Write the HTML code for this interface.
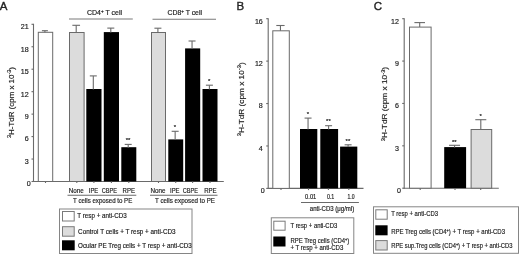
<!DOCTYPE html>
<html><head><meta charset="utf-8"><style>
html,body{margin:0;padding:0;background:#fff;width:520px;height:254px;overflow:hidden}
svg{display:block;font-family:"Liberation Sans", sans-serif}
text{stroke:#222;stroke-width:0.18}
</style></head><body>
<svg width="520" height="254" viewBox="0 0 520 254">
<defs><filter id="bl" x="0" y="0" width="520" height="254" filterUnits="userSpaceOnUse"><feGaussianBlur stdDeviation="0.3"/></filter></defs>
<g filter="url(#bl)">
<rect width="520" height="254" fill="#fff"/>
<text x="-0.2" y="10.1" font-size="11.5" text-anchor="start" fill="#222" style="stroke-width:0.35">A</text>
<line x1="33.5" y1="23.8" x2="33.5" y2="182.0" stroke="#6a6a6a" stroke-width="1.1"/>
<line x1="31.5" y1="181.5" x2="33.5" y2="181.5" stroke="#6a6a6a" stroke-width="1.1"/>
<text x="30.6" y="186.0" font-size="7.1" text-anchor="end" fill="#222" >0</text>
<line x1="31.5" y1="159.04" x2="33.5" y2="159.04" stroke="#6a6a6a" stroke-width="1.1"/>
<text x="28.6" y="163.94" font-size="7.1" text-anchor="end" fill="#222" >3</text>
<line x1="31.5" y1="136.59" x2="33.5" y2="136.59" stroke="#6a6a6a" stroke-width="1.1"/>
<text x="28.6" y="141.49" font-size="7.1" text-anchor="end" fill="#222" >6</text>
<line x1="31.5" y1="114.13" x2="33.5" y2="114.13" stroke="#6a6a6a" stroke-width="1.1"/>
<text x="28.6" y="119.03" font-size="7.1" text-anchor="end" fill="#222" >9</text>
<line x1="31.5" y1="91.67" x2="33.5" y2="91.67" stroke="#6a6a6a" stroke-width="1.1"/>
<text x="28.6" y="96.57" font-size="7.1" text-anchor="end" fill="#222" >12</text>
<line x1="31.5" y1="69.21" x2="33.5" y2="69.21" stroke="#6a6a6a" stroke-width="1.1"/>
<text x="28.6" y="74.11" font-size="7.1" text-anchor="end" fill="#222" >15</text>
<line x1="31.5" y1="46.76" x2="33.5" y2="46.76" stroke="#6a6a6a" stroke-width="1.1"/>
<text x="28.6" y="51.66" font-size="7.1" text-anchor="end" fill="#222" >18</text>
<line x1="31.5" y1="24.3" x2="33.5" y2="24.3" stroke="#6a6a6a" stroke-width="1.1"/>
<text x="28.6" y="29.2" font-size="7.1" text-anchor="end" fill="#222" >21</text>
<line x1="33" y1="181.5" x2="223.8" y2="181.5" stroke="#6a6a6a" stroke-width="1.1"/>
<text transform="translate(13.8,102.5) rotate(-90)" x="0" y="0" font-size="8" text-anchor="middle" fill="#222" textLength="71" lengthAdjust="spacingAndGlyphs"><tspan font-size="5.6" dy="-2.5">3</tspan><tspan dy="2.5">H-TdR (cpm x 10</tspan><tspan font-size="5.6" dy="-2.5">-3</tspan><tspan dy="2.5">)</tspan></text>
<rect x="38.3" y="32.3" width="14.4" height="149.2" fill="#fff" stroke="#6a6a6a" stroke-width="1.0"/>
<line x1="44.9" y1="30.7" x2="44.9" y2="32.3" stroke="#6a6a6a" stroke-width="1.1"/>
<line x1="41.9" y1="30.7" x2="47.9" y2="30.7" stroke="#6a6a6a" stroke-width="1.1"/>
<rect x="69.5" y="32.5" width="14.6" height="149.0" fill="#dcdcdc" stroke="#6a6a6a" stroke-width="1.0"/>
<line x1="76.2" y1="25.3" x2="76.2" y2="32.5" stroke="#6a6a6a" stroke-width="1.1"/>
<line x1="72.35" y1="25.3" x2="80.05" y2="25.3" stroke="#6a6a6a" stroke-width="1.1"/>
<rect x="86.3" y="89" width="15.2" height="92.5" fill="#000"/>
<line x1="93.3" y1="75.9" x2="93.3" y2="89.5" stroke="#6a6a6a" stroke-width="1.1"/>
<line x1="89.8" y1="75.9" x2="96.8" y2="75.9" stroke="#6a6a6a" stroke-width="1.1"/>
<rect x="103.8" y="32.1" width="15.2" height="149.4" fill="#000"/>
<line x1="110.8" y1="28.1" x2="110.8" y2="32.6" stroke="#6a6a6a" stroke-width="1.1"/>
<line x1="107.3" y1="28.1" x2="114.3" y2="28.1" stroke="#6a6a6a" stroke-width="1.1"/>
<rect x="121.3" y="147.2" width="15" height="34.3" fill="#000"/>
<line x1="128.2" y1="144.4" x2="128.2" y2="147.7" stroke="#6a6a6a" stroke-width="1.1"/>
<line x1="124.7" y1="144.4" x2="131.7" y2="144.4" stroke="#6a6a6a" stroke-width="1.1"/>
<text x="128" y="141.5" font-size="6" text-anchor="middle" fill="#222" >**</text>
<rect x="151.5" y="32.5" width="14" height="149.0" fill="#dcdcdc" stroke="#6a6a6a" stroke-width="1.0"/>
<line x1="157.9" y1="28.2" x2="157.9" y2="32.5" stroke="#6a6a6a" stroke-width="1.1"/>
<line x1="154.4" y1="28.2" x2="161.4" y2="28.2" stroke="#6a6a6a" stroke-width="1.1"/>
<rect x="168.3" y="139.4" width="14.9" height="42.1" fill="#000"/>
<line x1="175.15" y1="131.3" x2="175.15" y2="139.9" stroke="#6a6a6a" stroke-width="1.1"/>
<line x1="171.65" y1="131.3" x2="178.65" y2="131.3" stroke="#6a6a6a" stroke-width="1.1"/>
<text x="174.95" y="129" font-size="6" text-anchor="middle" fill="#222" >*</text>
<rect x="185.1" y="48.4" width="15.1" height="133.1" fill="#000"/>
<line x1="192.05" y1="41" x2="192.05" y2="48.9" stroke="#6a6a6a" stroke-width="1.1"/>
<line x1="188.55" y1="41" x2="195.55" y2="41" stroke="#6a6a6a" stroke-width="1.1"/>
<rect x="202.5" y="89" width="15.0" height="92.5" fill="#000"/>
<line x1="209.4" y1="85.2" x2="209.4" y2="89.5" stroke="#6a6a6a" stroke-width="1.1"/>
<line x1="205.9" y1="85.2" x2="212.9" y2="85.2" stroke="#6a6a6a" stroke-width="1.1"/>
<text x="209.2" y="83" font-size="6" text-anchor="middle" fill="#222" >*</text>
<line x1="45.5" y1="181.5" x2="45.5" y2="183.0" stroke="#6a6a6a" stroke-width="1.1"/>
<line x1="76.8" y1="181.5" x2="76.8" y2="183.0" stroke="#6a6a6a" stroke-width="1.1"/>
<line x1="93.9" y1="181.5" x2="93.9" y2="183.0" stroke="#6a6a6a" stroke-width="1.1"/>
<line x1="111.4" y1="181.5" x2="111.4" y2="183.0" stroke="#6a6a6a" stroke-width="1.1"/>
<line x1="128.8" y1="181.5" x2="128.8" y2="183.0" stroke="#6a6a6a" stroke-width="1.1"/>
<line x1="158.5" y1="181.5" x2="158.5" y2="183.0" stroke="#6a6a6a" stroke-width="1.1"/>
<line x1="175.7" y1="181.5" x2="175.7" y2="183.0" stroke="#6a6a6a" stroke-width="1.1"/>
<line x1="192.6" y1="181.5" x2="192.6" y2="183.0" stroke="#6a6a6a" stroke-width="1.1"/>
<line x1="210" y1="181.5" x2="210" y2="183.0" stroke="#6a6a6a" stroke-width="1.1"/>
<line x1="69" y1="19" x2="132.8" y2="19" stroke="#7a7a7a" stroke-width="1.1"/>
<text x="87" y="15.3" font-size="6.8" text-anchor="start" fill="#222" textLength="35" lengthAdjust="spacingAndGlyphs" >CD4<tspan font-size="4.5" dy="-2">+</tspan><tspan dy="2"> T cell</tspan></text>
<line x1="152.5" y1="19.2" x2="216" y2="19.2" stroke="#7a7a7a" stroke-width="1.1"/>
<text x="167.5" y="15.3" font-size="6.8" text-anchor="start" fill="#222" textLength="34.5" lengthAdjust="spacingAndGlyphs" >CD8<tspan font-size="4.5" dy="-2">+</tspan><tspan dy="2"> T cell</tspan></text>
<text x="76.3" y="193.1" font-size="6.8" text-anchor="middle" fill="#222" textLength="15" lengthAdjust="spacingAndGlyphs" >None</text>
<text x="93.5" y="193.1" font-size="6.8" text-anchor="middle" fill="#222" textLength="9.5" lengthAdjust="spacingAndGlyphs" >IPE</text>
<text x="109.3" y="193.1" font-size="6.8" text-anchor="middle" fill="#222" textLength="15.2" lengthAdjust="spacingAndGlyphs" >CBPE</text>
<text x="128.8" y="193.1" font-size="6.8" text-anchor="middle" fill="#222" textLength="12.5" lengthAdjust="spacingAndGlyphs" >RPE</text>
<text x="157.9" y="193.1" font-size="6.8" text-anchor="middle" fill="#222" textLength="15" lengthAdjust="spacingAndGlyphs" >None</text>
<text x="174.8" y="193.1" font-size="6.8" text-anchor="middle" fill="#222" textLength="9.5" lengthAdjust="spacingAndGlyphs" >IPE</text>
<text x="190.4" y="193.1" font-size="6.8" text-anchor="middle" fill="#222" textLength="15.2" lengthAdjust="spacingAndGlyphs" >CBPE</text>
<text x="210.4" y="193.1" font-size="6.8" text-anchor="middle" fill="#222" textLength="12.5" lengthAdjust="spacingAndGlyphs" >RPE</text>
<line x1="67.5" y1="195.3" x2="136.3" y2="195.3" stroke="#6a6a6a" stroke-width="1.1"/>
<line x1="150" y1="195.3" x2="217.5" y2="195.3" stroke="#6a6a6a" stroke-width="1.1"/>
<text x="102.7" y="203" font-size="6.8" text-anchor="middle" fill="#222" textLength="59.2" lengthAdjust="spacingAndGlyphs" >T cells exposed to PE</text>
<text x="185" y="203" font-size="6.8" text-anchor="middle" fill="#222" textLength="60" lengthAdjust="spacingAndGlyphs" >T cells exposed to PE</text>
<rect x="59.5" y="209" width="132.5" height="44.5" fill="#fff" stroke="#858585" stroke-width="1.0"/>
<rect x="62.5" y="211.5" width="11.7" height="9.5" fill="#fff" stroke="#7a7a7a" stroke-width="1.0"/>
<rect x="62.5" y="226.7" width="11.7" height="9.5" fill="#dcdcdc" stroke="#7a7a7a" stroke-width="1.0"/>
<rect x="62" y="240.3" width="12.7" height="10" fill="#000"/>
<text x="77.3" y="218.3" font-size="7" text-anchor="start" fill="#222" textLength="49.4" lengthAdjust="spacingAndGlyphs" >T resp + anti-CD3</text>
<text x="78.1" y="234.2" font-size="7" text-anchor="start" fill="#222" textLength="97.5" lengthAdjust="spacingAndGlyphs" >Control T cells + T resp + anti-CD3</text>
<text x="78.1" y="248.3" font-size="7" text-anchor="start" fill="#222" textLength="113.7" lengthAdjust="spacingAndGlyphs" >Ocular PE Treg cells + T resp + anti-CD3</text>
<text x="236.4" y="10.1" font-size="11.5" text-anchor="start" fill="#222" style="stroke-width:0.35">B</text>
<line x1="268.2" y1="18.2" x2="268.2" y2="188.9" stroke="#6a6a6a" stroke-width="1.1"/>
<line x1="266.2" y1="188.4" x2="268.2" y2="188.4" stroke="#6a6a6a" stroke-width="1.1"/>
<text x="264.8" y="192.9" font-size="7.1" text-anchor="end" fill="#222" >0</text>
<line x1="266.2" y1="145.97" x2="268.2" y2="145.97" stroke="#6a6a6a" stroke-width="1.1"/>
<text x="262.8" y="150.88" font-size="7.1" text-anchor="end" fill="#222" >4</text>
<line x1="266.2" y1="103.55" x2="268.2" y2="103.55" stroke="#6a6a6a" stroke-width="1.1"/>
<text x="262.8" y="108.45" font-size="7.1" text-anchor="end" fill="#222" >8</text>
<line x1="266.2" y1="61.12" x2="268.2" y2="61.12" stroke="#6a6a6a" stroke-width="1.1"/>
<text x="262.8" y="66.03" font-size="7.1" text-anchor="end" fill="#222" >12</text>
<line x1="266.2" y1="18.7" x2="268.2" y2="18.7" stroke="#6a6a6a" stroke-width="1.1"/>
<text x="262.8" y="23.6" font-size="7.1" text-anchor="end" fill="#222" >16</text>
<line x1="267.7" y1="188.4" x2="363.5" y2="188.4" stroke="#6a6a6a" stroke-width="1.1"/>
<text transform="translate(243.7,99.3) rotate(-90)" x="0" y="0" font-size="8" text-anchor="middle" fill="#222" textLength="74" lengthAdjust="spacingAndGlyphs"><tspan font-size="5.6" dy="-2.5">3</tspan><tspan dy="2.5">H-TdR (cpm x 10</tspan><tspan font-size="5.6" dy="-2.5">-3</tspan><tspan dy="2.5">)</tspan></text>
<rect x="272.8" y="30.8" width="16.5" height="157.6" fill="#fff" stroke="#6a6a6a" stroke-width="1.0"/>
<line x1="280.45" y1="25.5" x2="280.45" y2="30.8" stroke="#6a6a6a" stroke-width="1.1"/>
<line x1="276.3" y1="25.5" x2="284.6" y2="25.5" stroke="#6a6a6a" stroke-width="1.1"/>
<rect x="300" y="129" width="17.3" height="59.4" fill="#000"/>
<line x1="308.05" y1="118.1" x2="308.05" y2="129.5" stroke="#6a6a6a" stroke-width="1.1"/>
<line x1="304.55" y1="118.1" x2="311.55" y2="118.1" stroke="#6a6a6a" stroke-width="1.1"/>
<text x="307.85" y="115.5" font-size="6" text-anchor="middle" fill="#222" >*</text>
<rect x="320.3" y="129" width="17.8" height="59.4" fill="#000"/>
<line x1="328.6" y1="125.7" x2="328.6" y2="129.5" stroke="#6a6a6a" stroke-width="1.1"/>
<line x1="325.1" y1="125.7" x2="332.1" y2="125.7" stroke="#6a6a6a" stroke-width="1.1"/>
<text x="328.4" y="122.5" font-size="6" text-anchor="middle" fill="#222" >**</text>
<rect x="340.1" y="146.6" width="17.2" height="41.8" fill="#000"/>
<line x1="348.1" y1="144.8" x2="348.1" y2="147.1" stroke="#6a6a6a" stroke-width="1.1"/>
<line x1="344.6" y1="144.8" x2="351.6" y2="144.8" stroke="#6a6a6a" stroke-width="1.1"/>
<text x="347.9" y="143" font-size="6" text-anchor="middle" fill="#222" >**</text>
<line x1="281" y1="188.4" x2="281" y2="190.1" stroke="#6a6a6a" stroke-width="1.1"/>
<line x1="308.5" y1="188.4" x2="308.5" y2="190.1" stroke="#6a6a6a" stroke-width="1.1"/>
<line x1="328.4" y1="188.4" x2="328.4" y2="190.1" stroke="#6a6a6a" stroke-width="1.1"/>
<line x1="348.8" y1="188.4" x2="348.8" y2="190.1" stroke="#6a6a6a" stroke-width="1.1"/>
<text x="310.7" y="198.9" font-size="6.8" text-anchor="middle" fill="#222" textLength="11.2" lengthAdjust="spacingAndGlyphs" >0.01</text>
<text x="330.6" y="198.9" font-size="6.8" text-anchor="middle" fill="#222" textLength="7.4" lengthAdjust="spacingAndGlyphs" >0.1</text>
<text x="351" y="198.9" font-size="6.8" text-anchor="middle" fill="#222" textLength="7.1" lengthAdjust="spacingAndGlyphs" >1.0</text>
<line x1="301" y1="202.5" x2="358.9" y2="202.5" stroke="#6a6a6a" stroke-width="1.1"/>
<text x="309.8" y="210.9" font-size="6.8" text-anchor="start" fill="#222" textLength="44.4" lengthAdjust="spacingAndGlyphs" >anti-CD3 (μg/ml)</text>
<rect x="271.3" y="217.8" width="82.5" height="35.7" fill="#fff" stroke="#858585" stroke-width="1.0"/>
<rect x="273.8" y="221.2" width="11.3" height="9" fill="#fff" stroke="#7a7a7a" stroke-width="1.0"/>
<rect x="273.3" y="236.5" width="12.2" height="10" fill="#000"/>
<text x="290.5" y="227.8" font-size="7" text-anchor="start" fill="#222" textLength="46.7" lengthAdjust="spacingAndGlyphs" >T resp + anti-CD3</text>
<text x="290.5" y="243.4" font-size="7" text-anchor="start" fill="#222" textLength="58.8" lengthAdjust="spacingAndGlyphs" >RPE Treg cells (CD4<tspan font-size="4.5" dy="-2">+</tspan><tspan dy="2">)</tspan></text>
<text x="290.5" y="249.8" font-size="7" text-anchor="start" fill="#222" textLength="52.8" lengthAdjust="spacingAndGlyphs" >+ T resp + anti-CD3</text>
<text x="373.8" y="10.1" font-size="11.5" text-anchor="start" fill="#222" style="stroke-width:0.35">C</text>
<line x1="404.2" y1="18.2" x2="404.2" y2="188.7" stroke="#6a6a6a" stroke-width="1.1"/>
<line x1="402.2" y1="188.2" x2="404.2" y2="188.2" stroke="#6a6a6a" stroke-width="1.1"/>
<text x="401" y="192.7" font-size="7.1" text-anchor="end" fill="#222" >0</text>
<line x1="402.2" y1="145.82" x2="404.2" y2="145.82" stroke="#6a6a6a" stroke-width="1.1"/>
<text x="399" y="150.72" font-size="7.1" text-anchor="end" fill="#222" >3</text>
<line x1="402.2" y1="103.45" x2="404.2" y2="103.45" stroke="#6a6a6a" stroke-width="1.1"/>
<text x="399" y="108.35" font-size="7.1" text-anchor="end" fill="#222" >6</text>
<line x1="402.2" y1="61.07" x2="404.2" y2="61.07" stroke="#6a6a6a" stroke-width="1.1"/>
<text x="399" y="65.97" font-size="7.1" text-anchor="end" fill="#222" >9</text>
<line x1="402.2" y1="18.7" x2="404.2" y2="18.7" stroke="#6a6a6a" stroke-width="1.1"/>
<text x="399" y="23.6" font-size="7.1" text-anchor="end" fill="#222" >12</text>
<line x1="403.7" y1="188.2" x2="498.8" y2="188.2" stroke="#6a6a6a" stroke-width="1.1"/>
<text transform="translate(387.4,104) rotate(-90)" x="0" y="0" font-size="8" text-anchor="middle" fill="#222" textLength="74.3" lengthAdjust="spacingAndGlyphs"><tspan font-size="5.6" dy="-2.5">3</tspan><tspan dy="2.5">H-TdR (cpm x 10</tspan><tspan font-size="5.6" dy="-2.5">-3</tspan><tspan dy="2.5">)</tspan></text>
<rect x="409.5" y="27.1" width="21.6" height="161.1" fill="#fff" stroke="#6a6a6a" stroke-width="1.0"/>
<line x1="419.7" y1="22.6" x2="419.7" y2="27.1" stroke="#6a6a6a" stroke-width="1.1"/>
<line x1="414.4" y1="22.6" x2="425.0" y2="22.6" stroke="#6a6a6a" stroke-width="1.1"/>
<rect x="444.2" y="147.1" width="21.9" height="41.1" fill="#000"/>
<line x1="454.55" y1="145.3" x2="454.55" y2="147.6" stroke="#6a6a6a" stroke-width="1.1"/>
<line x1="449.05" y1="145.3" x2="460.05" y2="145.3" stroke="#6a6a6a" stroke-width="1.1"/>
<text x="454.35" y="144" font-size="6" text-anchor="middle" fill="#222" >**</text>
<rect x="471.1" y="129.5" width="20.6" height="58.7" fill="#dcdcdc" stroke="#6a6a6a" stroke-width="1.0"/>
<line x1="480.8" y1="119.7" x2="480.8" y2="129.5" stroke="#6a6a6a" stroke-width="1.1"/>
<line x1="475.3" y1="119.7" x2="486.3" y2="119.7" stroke="#6a6a6a" stroke-width="1.1"/>
<text x="480.6" y="117.5" font-size="6" text-anchor="middle" fill="#222" >*</text>
<line x1="420.2" y1="188.2" x2="420.2" y2="189.9" stroke="#6a6a6a" stroke-width="1.1"/>
<line x1="455" y1="188.2" x2="455" y2="189.9" stroke="#6a6a6a" stroke-width="1.1"/>
<line x1="480.7" y1="188.2" x2="480.7" y2="189.9" stroke="#6a6a6a" stroke-width="1.1"/>
<rect x="373.5" y="206.8" width="145" height="46.5" fill="#fff" stroke="#858585" stroke-width="1.0"/>
<rect x="375.8" y="209.8" width="11.4" height="9.4" fill="#fff" stroke="#7a7a7a" stroke-width="1.0"/>
<rect x="375.3" y="225.3" width="12.3" height="10" fill="#000"/>
<rect x="375.8" y="240.6" width="11.4" height="9.4" fill="#dcdcdc" stroke="#7a7a7a" stroke-width="1.0"/>
<text x="391.2" y="216" font-size="7" text-anchor="start" fill="#222" textLength="46.8" lengthAdjust="spacingAndGlyphs" >T resp + anti-CD3</text>
<text x="391.2" y="233.5" font-size="7" text-anchor="start" fill="#222" textLength="113.8" lengthAdjust="spacingAndGlyphs" >RPE Treg cells (CD4<tspan font-size="4.5" dy="-2">+</tspan><tspan dy="2">) + T resp + anti-CD3</tspan></text>
<text x="391.2" y="248" font-size="7" text-anchor="start" fill="#222" textLength="121.3" lengthAdjust="spacingAndGlyphs" >RPE sup.Treg cells (CD4<tspan font-size="4.5" dy="-2">+</tspan><tspan dy="2">) + T resp + anti-CD3</tspan></text>
</g>
</svg>
</body></html>
